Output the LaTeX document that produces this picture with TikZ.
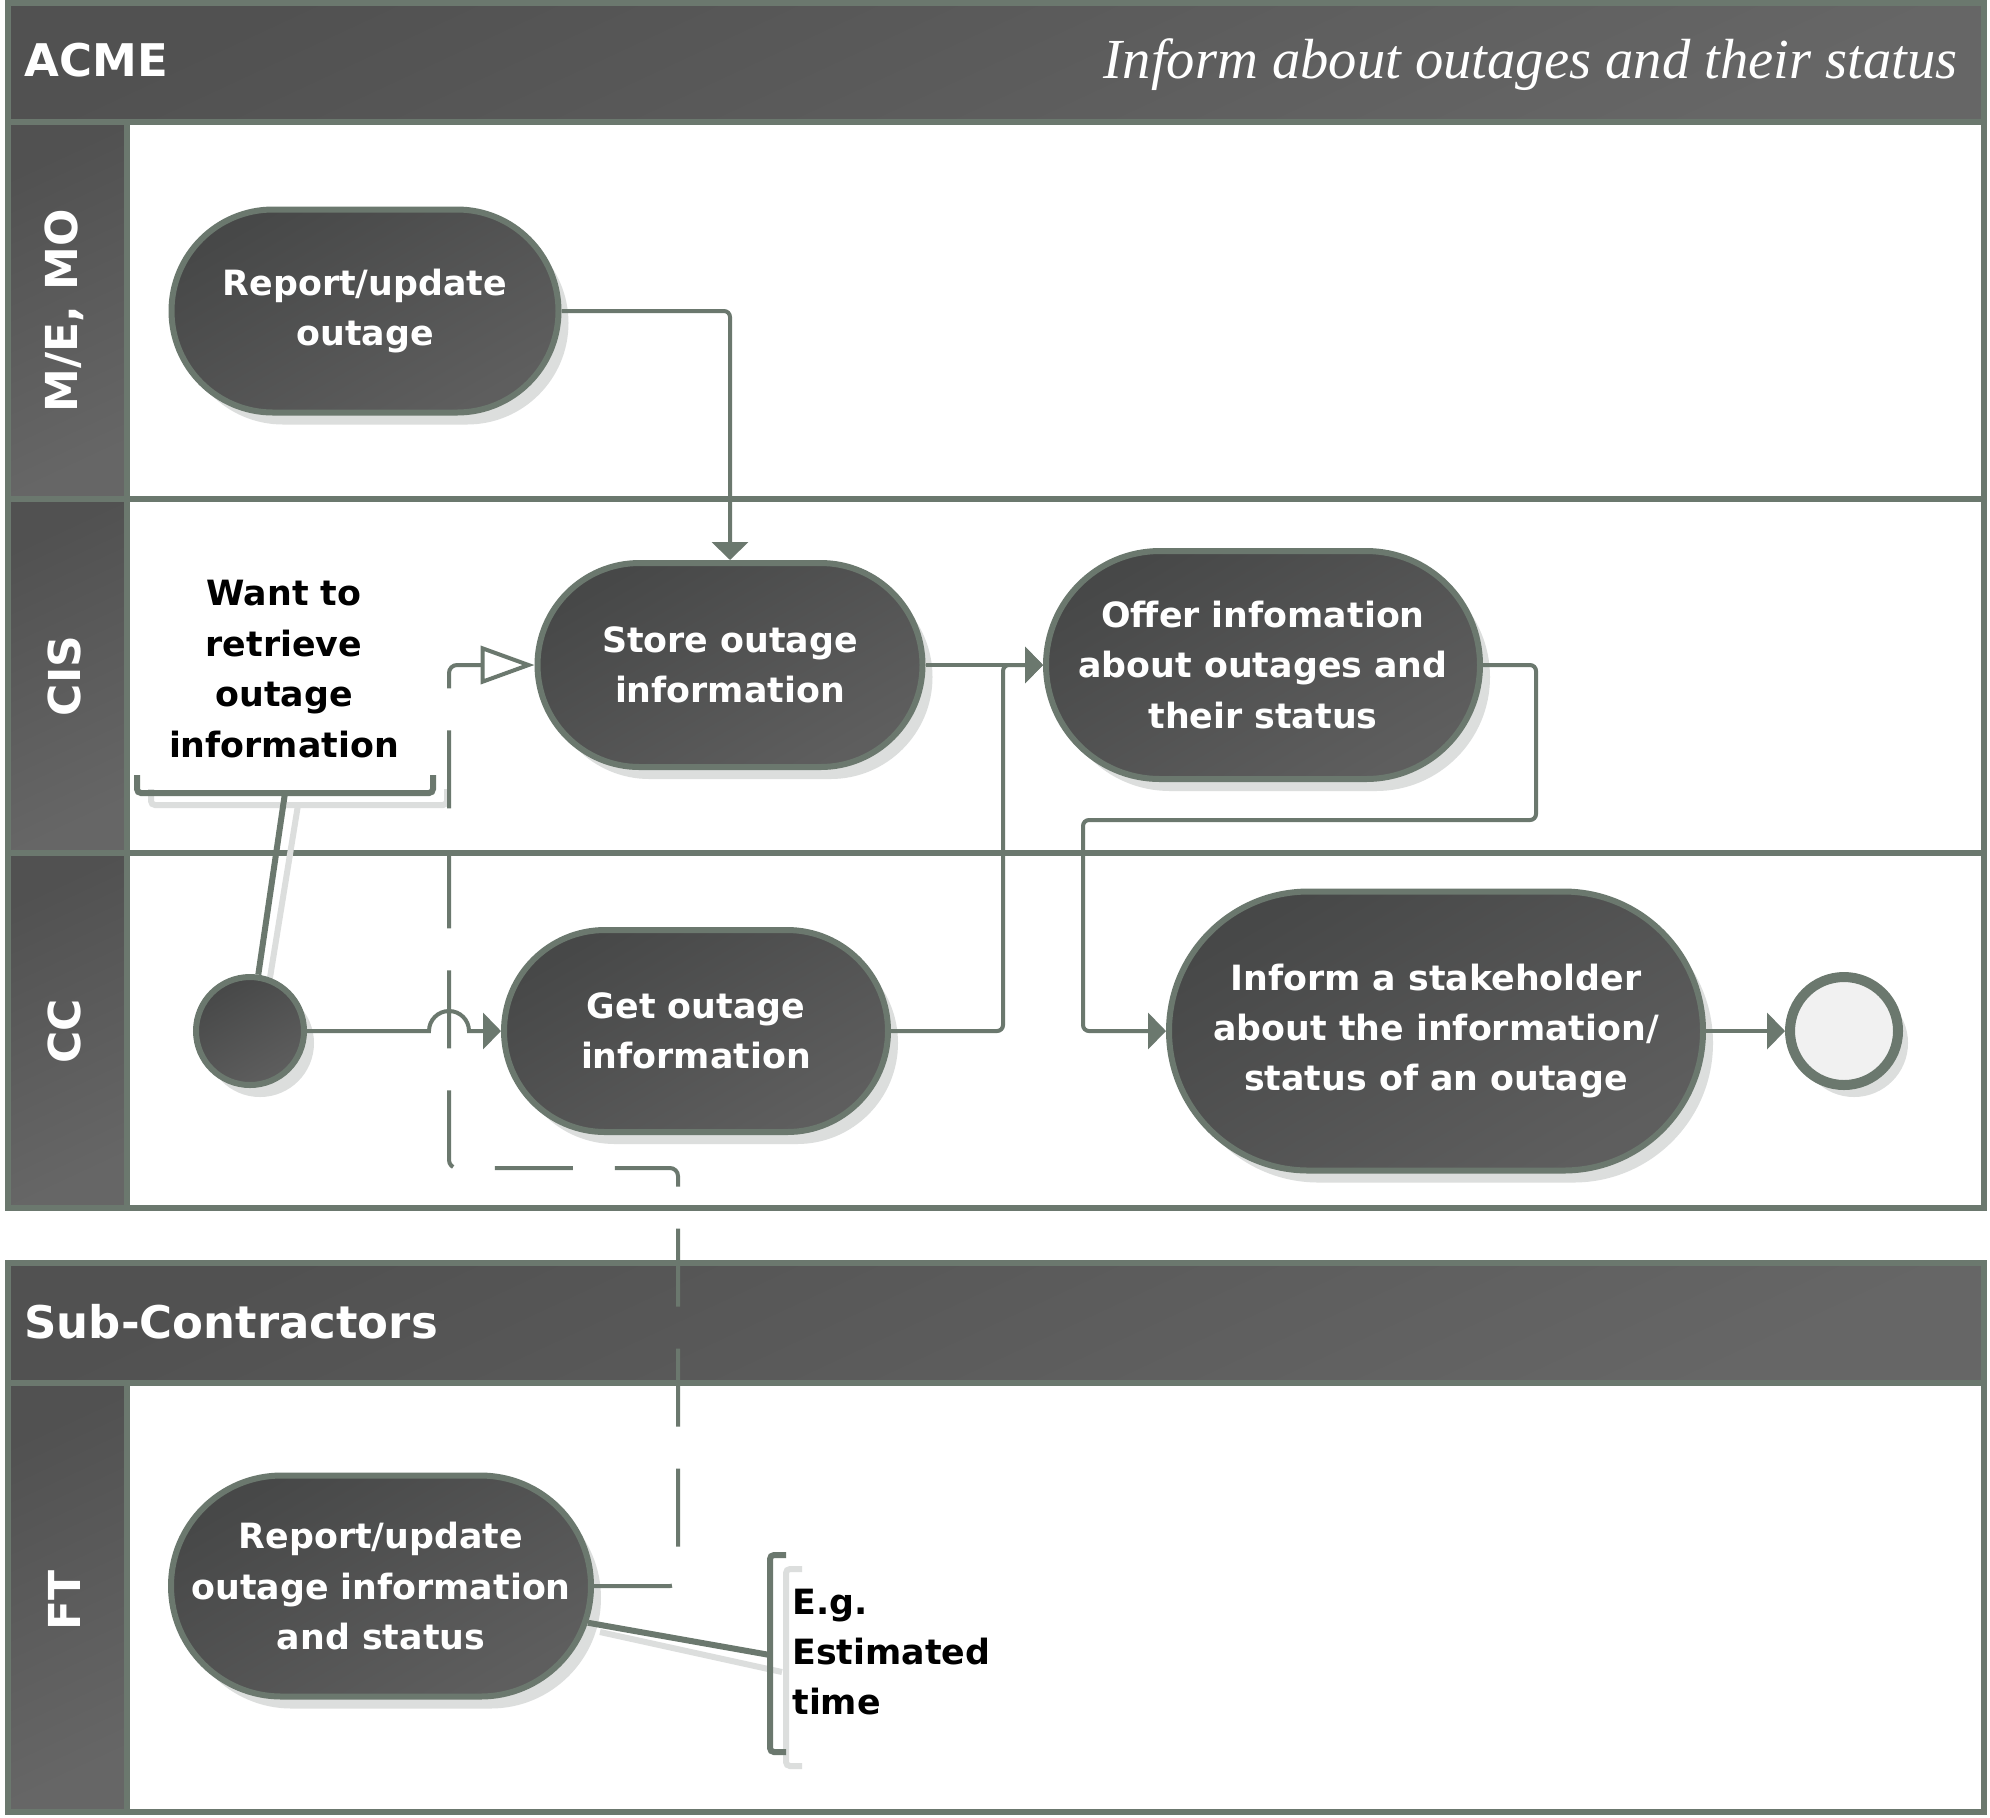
\documentclass[tikz,border=0pt]{standalone}
\usepackage{fontspec}
\setmainfont{DejaVu Sans}
\newfontfamily\titlefont{Liberation Serif}
\usetikzlibrary{arrows.meta,shapes.misc,shadows}
\definecolor{bordc}{HTML}{6B786E}
\definecolor{darkA}{HTML}{474848}
\definecolor{darkB}{HTML}{5E5E5E}
\definecolor{hdrA}{HTML}{515151}
\definecolor{hdrB}{HTML}{666666}
\definecolor{shadc}{HTML}{DCDEDD}
\definecolor{endfill}{HTML}{F1F1F1}
\begin{document}
\begin{tikzpicture}[x=0.5pt,y=0.5pt,
  hdr/.style={draw=bordc,line width=3pt,top color=hdrA,bottom color=hdrB,shading angle=25},
  lanebody/.style={draw=bordc,line width=3pt,fill=white},
  hdrtext/.style={text=white,inner sep=0pt,font=\bfseries\fontsize{22.5}{27}\selectfont},
  lanetext/.style={text=white,inner sep=0pt,rotate=90,font=\bfseries\fontsize{22}{26}\selectfont},
  act/.style={rounded rectangle,draw=bordc,line width=3pt,top color=darkA,bottom color=darkB,shading angle=30,
    text=white,align=center,inner sep=0pt,font=\bfseries\fontsize{17.4}{25.2}\selectfont,
    general shadow={shadow xshift=5pt,shadow yshift=-6pt,fill=shadc,draw=none}},
  anno/.style={text=black,inner sep=0pt,font=\bfseries\fontsize{17.4}{25.2}\selectfont},
  conn/.style={draw=bordc,line width=2pt,rounded corners=3pt,-{Triangle[length=9pt,width=18pt]}},
  dashconn/.style={draw=bordc,line width=2pt,dash pattern=on 39pt off 21pt,rounded corners=4pt,
    -{Triangle[open,length=27pt,width=19pt,line width=2pt]}},
  bracket/.style={draw=bordc,line width=3pt,rounded corners=2pt},
  brshadow/.style={draw=shadc,line width=3pt,rounded corners=2pt},
  annoline/.style={draw=bordc,line width=3pt},
  annoshadow/.style={draw=shadc,line width=3pt}
]
\fill[white] (0,0) rectangle (1990,-1817);
\useasboundingbox (0,0) rectangle (1990,-1817);

% ---------- ACME pool ----------
\draw[lanebody] (8,-3) rectangle (1984,-1208);
\draw[lanebody] (127,-122) rectangle (1984,-499);
\draw[lanebody] (127,-499) rectangle (1984,-853);
\draw[lanebody] (127,-853) rectangle (1984,-1208);
\draw[hdr] (8,-3) rectangle (1984,-122);
\draw[hdr] (8,-122) rectangle (127,-499);
\draw[hdr] (8,-499) rectangle (127,-853);
\draw[hdr] (8,-853) rectangle (127,-1208);
\node[hdrtext,anchor=west] (acme) at (24,-60) {ACME};
\node[anchor=east,inner sep=0pt,text=white,font=\titlefont\itshape\fontsize{28.3}{32}\selectfont] (ttl) at (1958,-65) {Inform about outages and their status};
\node[lanetext] (lmo) at (64,-311) {M/E, MO};
\node[lanetext] (lcis) at (64,-676) {CIS};
\node[lanetext] (lcc) at (64,-1031) {CC};

% ---------- Sub-Contractors pool ----------
\draw[lanebody] (8,-1263) rectangle (1984,-1812);
\draw[lanebody] (127,-1383) rectangle (1984,-1812);
\draw[hdr] (8,-1263) rectangle (1984,-1383);
\draw[hdr] (8,-1383) rectangle (127,-1812);
\node[hdrtext,anchor=west] (sub) at (24,-1322) {Sub-Contractors};
\node[lanetext] (lft) at (64,-1600) {FT};

% ---------- annotation shadows ----------
\draw[brshadow] (151,-789) -- (151,-805) -- (447,-805) -- (447,-789);
\draw[annoshadow] (298,-805) -- (268,-990);
\draw[brshadow] (802,-1569) -- (786,-1569) -- (786,-1766) -- (802,-1766);
\draw[annoshadow] (600,-1632) -- (782,-1672);

% ---------- activity nodes ----------
\node[act,minimum width=193.5pt,minimum height=101.5pt] (rep) at (365,-311) {Report/update\\outage};
\node[act,minimum width=192.5pt,minimum height=102pt] (store) at (730,-665) {Store outage\\information};
\node[act,minimum width=217pt,minimum height=114pt] (offer) at (1263,-665) {Offer infomation\\about outages and\\their status};
\node[act,minimum width=192pt,minimum height=101pt] (get) at (696,-1031) {Get outage\\information};
\node[act,minimum width=267pt,minimum height=139.5pt] (inform) at (1436,-1031) {Inform a stakeholder\\about the information/\\status of an outage};
\node[act,minimum width=209.5pt,minimum height=110.5pt] (ft) at (381,-1586) {Report/update\\outage information\\and status};

\node[circle,draw=bordc,line width=3pt,top color=darkA,bottom color=darkB,shading angle=30,minimum size=54pt,inner sep=0pt,
  general shadow={shadow xshift=5pt,shadow yshift=-6pt,fill=shadc,draw=none}] (start) at (250,-1031) {};
\node[circle,draw=bordc,line width=5pt,fill=endfill,minimum size=54pt,inner sep=0pt,
  general shadow={shadow xshift=5pt,shadow yshift=-6pt,fill=shadc,draw=none}] (end) at (1844,-1031) {};

% ---------- annotations ----------
\node[anno,align=center] (want) at (284,-669) {Want to\\retrieve\\outage\\information};
\draw[bracket] (137,-775) -- (137,-793) -- (433,-793) -- (433,-775);
\coordinate (wb) at (285,-793);
\draw[annoline] (wb) -- (start);

\node[anno,align=left,anchor=west] (eg) at (792,-1652) {E.g.\\Estimated\\time};
\draw[bracket] (786,-1555) -- (770,-1555) -- (770,-1752) -- (786,-1752);
\coordinate (eb) at (770,-1655);
\draw[annoline] (ft) -- (eb);

% ---------- connectors ----------
\draw[dashconn] (ft.east) -- (678,-1586) -- (678,-1168) -- (449,-1168) -- (449,-665) -- (store.west);
\draw[conn] (rep.east) -| (store.north);
\draw[conn] (store.east) -- (offer.west);
\draw[conn] (get.east) -- (1003,-1031) -- (1003,-665) -- (offer.west);
\draw[conn] (offer.east) -- (1536,-665) -- (1536,-820) -- (1083,-820) -- (1083,-1031) -- (inform.west);
\draw[conn] (inform.east) -- (end.west);
\draw[conn,sharp corners] (start.east) -- (429,-1031) arc[start angle=180,end angle=0,radius=10pt] -- (get.west);
\end{tikzpicture}
\end{document}
